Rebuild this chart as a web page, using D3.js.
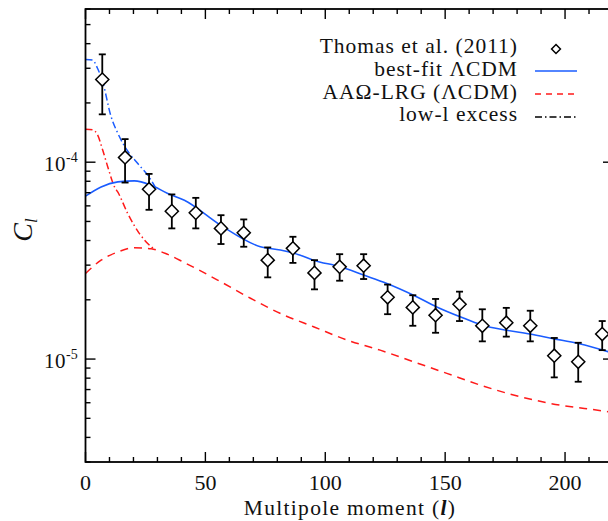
<!DOCTYPE html>
<html><head><meta charset="utf-8">
<script src="https://cdn.jsdelivr.net/npm/d3@7"></script>
<style>body{margin:0;background:#fff}svg{display:block}text{font-family:"Liberation Serif","DejaVu Serif",serif;fill:#111}</style>
</head><body><svg id="c" width="608" height="521"></svg>
<script>
// Thomas et al. (2011) measurements
const ell   = [7,16.5,26.5,36,46,56.5,66,76,86.5,95.5,106,116,126,136.5,146,156,165.5,175.5,185.5,195.5,205.5,215.5];
const cl    = [2.63e-4,1.057e-4,7.29e-5,5.64e-5,5.53e-5,4.61e-5,4.38e-5,3.18e-5,3.65e-5,2.74e-5,2.94e-5,2.98e-5,2.06e-5,1.83e-5,1.67e-5,1.90e-5,1.476e-5,1.53e-5,1.476e-5,1.04e-5,9.69e-6,1.34e-5];
const clHi  = [3.53e-4,1.31e-4,8.72e-5,6.86e-5,6.59e-5,5.38e-5,5.12e-5,3.69e-5,4.18e-5,3.18e-5,3.41e-5,3.41e-5,2.39e-5,2.11e-5,2.02e-5,2.20e-5,1.79e-5,1.82e-5,1.76e-5,1.28e-5,1.21e-5,1.56e-5];
const clLo  = [1.75e-4,7.88e-5,5.73e-5,4.61e-5,4.61e-5,3.84e-5,3.72e-5,2.60e-5,3.08e-5,2.26e-5,2.50e-5,2.55e-5,1.69e-5,1.476e-5,1.36e-5,1.56e-5,1.23e-5,1.30e-5,1.23e-5,8.07e-6,7.67e-6,1.11e-5];
// best-fit LCDM
const bestL = [0,6.5,13.5,20.4,27.4,34.3,41.25,56.25,72.9,81.25,89.6,95.1,106.25,116,125.7,136.8,146.5,156.25,165.3,175.7,185.4,195.1,205.5,217.9,220];
const bestC = [6.72e-5,7.49e-5,7.94e-5,8.04e-5,7.64e-5,6.94e-5,6.41e-5,4.79e-5,3.72e-5,3.58e-5,3.37e-5,3.18e-5,2.94e-5,2.67e-5,2.42e-5,2.11e-5,1.84e-5,1.64e-5,1.49e-5,1.40e-5,1.34e-5,1.27e-5,1.20e-5,1.09e-5,1.07e-5];
// AAOmega-LRG LCDM
const lrgL  = [0,6.5,13.5,20.4,27.4,34.3,41.25,55.1,69,82.9,95.1,109,122.9,136.8,150.7,164.6,178.5,192.4,217.9,220];
const lrgC  = [2.72e-5,3.18e-5,3.50e-5,3.68e-5,3.63e-5,3.40e-5,3.09e-5,2.52e-5,2.03e-5,1.67e-5,1.46e-5,1.25e-5,1.11e-5,9.69e-6,8.46e-6,7.38e-6,6.57e-6,6.00e-6,5.40e-6,5.35e-6];
// low-l excess curves
const exBestL = [0,3,5,7,10.7,13.5,18.3,21.8,27.4,29];
const exBestC = [3.32e-4,3.30e-4,3.0e-4,2.6e-4,1.70e-4,1.40e-4,1.107e-4,9.85e-5,8.1e-5,7.5e-5];
const exLrgL  = [0,3,5,7.2,9.3,12.1,13.5,17.6,22.5,27.4,29];
const exLrgC  = [1.47e-4,1.46e-4,1.38e-4,1.15e-4,9.46e-5,7.49e-5,7.04e-5,5.49e-5,4.34e-5,3.72e-5,3.6e-5];
const xTicks = [0,50,100,150,200];
const yTicks = [1e-5,1e-4];
const legendLabels = ["Thomas et al. (2011)","best-fit \u039BCDM","AA\u03A9-LRG (\u039BCDM)","low-l excess"];

const BLUE="#1a5cff", RED="#ff1a1a";
const svg=d3.select("#c");
const L=85.5,R=613,T=9,B=462;
const x=d3.scaleLinear().domain([0,220]).range([L,R]);
const y=d3.scaleLog().domain([3e-6,6e-4]).range([B,T]);

svg.append("clipPath").attr("id","pc").append("rect").attr("x",L).attr("y",T).attr("width",R-L).attr("height",B-T);
const g=svg.append("g").attr("clip-path","url(#pc)");

const line=d3.line().x(d=>x(d[0])).y(d=>y(d[1])).curve(d3.curveMonotoneX);
const zip=(a,b)=>a.map((v,i)=>[v,b[i]]);

g.append("path").datum(zip(lrgL,lrgC)).attr("d",line).attr("fill","none").attr("stroke",RED).attr("stroke-width",1.5).attr("stroke-dasharray","8,6");
g.append("path").datum(zip(exLrgL,exLrgC)).attr("d",line).attr("fill","none").attr("stroke",RED).attr("stroke-width",1.5).attr("stroke-dasharray","7,3,1.5,3");
g.append("path").datum(zip(bestL,bestC)).attr("d",line).attr("fill","none").attr("stroke",BLUE).attr("stroke-width",1.6);
g.append("path").datum(zip(exBestL,exBestC)).attr("d",line).attr("fill","none").attr("stroke",BLUE).attr("stroke-width",1.5).attr("stroke-dasharray","7,3,1.5,3");

// error bars + diamonds
const pts=ell.map((l,i)=>({l,c:cl[i],hi:clHi[i],lo:clLo[i]}));
const eb=svg.append("g").attr("stroke","#000").attr("stroke-width",1.8).attr("fill","none");
pts.forEach(p=>{
  const px=x(p.l);
  eb.append("line").attr("x1",px).attr("x2",px).attr("y1",y(p.hi)).attr("y2",y(p.lo));
  eb.append("line").attr("x1",px-3.5).attr("x2",px+3.5).attr("y1",y(p.hi)).attr("y2",y(p.hi));
  eb.append("line").attr("x1",px-3.5).attr("x2",px+3.5).attr("y1",y(p.lo)).attr("y2",y(p.lo));
});
const dia=d3.symbol().type(d3.symbolDiamond2).size(110);
svg.append("g").selectAll("path").data(pts).join("path")
  .attr("transform",p=>`translate(${x(p.l)},${y(p.c)})`)
  .attr("d",dia).attr("fill","#fff").attr("stroke","#000").attr("stroke-width",1.5);

// axes frame and ticks
const ax=svg.append("g").attr("stroke","#000").attr("fill","none");
ax.append("rect").attr("x",L).attr("y",T).attr("width",R-L).attr("height",B-T).attr("stroke-width",1.8);
for(let v=0;v<=220;v+=10){
  const len=v%50===0?10:5, px=x(v);
  ax.append("line").attr("x1",px).attr("x2",px).attr("y1",B).attr("y2",B-len).attr("stroke-width",1.4);
  ax.append("line").attr("x1",px).attr("x2",px).attr("y1",T).attr("y2",T+len).attr("stroke-width",1.4);
}
const yt=[];
for(let e=-6;e<=-4;e++) for(let m=1;m<=9;m++){const v=m*Math.pow(10,e); if(v>=3e-6*0.999&&v<=6e-4*1.001) yt.push([v,m===1]);}
yt.forEach(([v,maj])=>{
  const py=y(v), len=maj?10:5;
  ax.append("line").attr("x1",L).attr("x2",L+len).attr("y1",py).attr("y2",py).attr("stroke-width",1.4);
  ax.append("line").attr("x1",R).attr("x2",R-len).attr("y1",py).attr("y2",py).attr("stroke-width",1.4);
});
// x tick labels
svg.append("g").selectAll("text").data(xTicks).join("text")
  .attr("x",d=>x(d)).attr("y",490).attr("text-anchor","middle").attr("font-size",22).text(d=>d);
// y tick labels
yTicks.forEach(v=>{
  const e=Math.round(Math.log10(v));
  svg.append("text").attr("x",66).attr("y",y(v)+9).attr("text-anchor","end").attr("font-size",21).attr("letter-spacing",0.5).text("10");
  svg.append("text").attr("x",66).attr("y",y(v)-0.5).attr("font-size",14).text(String(e));
});
// axis titles
const xt=svg.append("text").attr("x",350).attr("y",515).attr("text-anchor","middle").attr("font-size",21.5).attr("letter-spacing",1.3);
xt.append("tspan").text("Multipole moment (");
xt.append("tspan").attr("font-style","italic").attr("font-weight","bold").text("l");
xt.append("tspan").text(")");
const ytl=svg.append("text").attr("transform","translate(32,230) rotate(-90)").attr("text-anchor","middle").attr("font-size",28).attr("font-style","italic");
ytl.append("tspan").text("C");
ytl.append("tspan").attr("font-size",17).attr("dy",5).text("l");

// legend
const lg=svg.append("g");
const ly=[53,76,99,121];
legendLabels.forEach((s,i)=>{
  lg.append("text").attr("x",518).attr("y",ly[i]).attr("text-anchor","end").attr("font-size",21.5).attr("letter-spacing",1.0).text(s);
});
lg.append("path").attr("transform","translate(556,49)").attr("d",d3.symbol().type(d3.symbolDiamond2).size(50)).attr("fill","#fff").attr("stroke","#000").attr("stroke-width",1.5);
lg.append("line").attr("x1",535).attr("x2",577).attr("y1",71).attr("y2",71).attr("stroke",BLUE).attr("stroke-width",1.6);
lg.append("line").attr("x1",535).attr("x2",577).attr("y1",94).attr("y2",94).attr("stroke",RED).attr("stroke-width",1.5).attr("stroke-dasharray","6,5");
lg.append("line").attr("x1",535).attr("x2",577).attr("y1",117).attr("y2",117).attr("stroke","#000").attr("stroke-width",1.4).attr("stroke-dasharray","7,3,1.5,3");
</script></body></html>
